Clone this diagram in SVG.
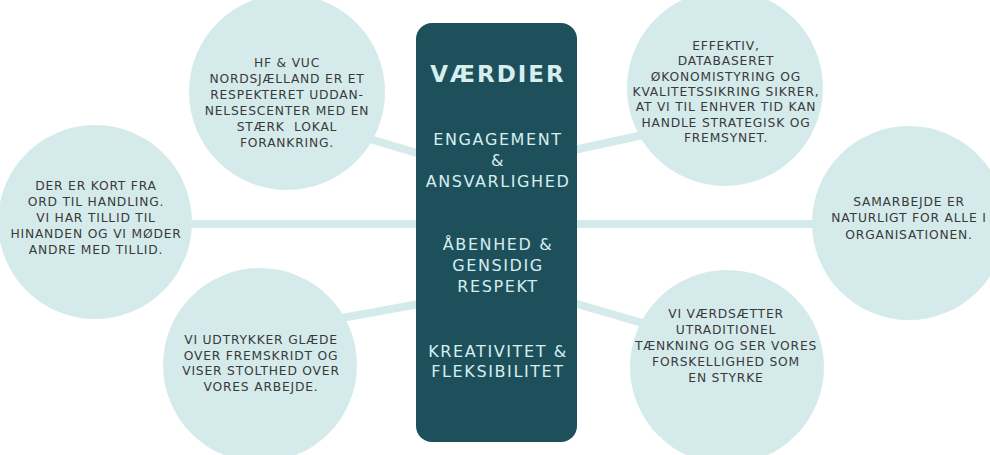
<svg xmlns="http://www.w3.org/2000/svg" width="990" height="455" viewBox="0 0 990 455">
<style>
.bub{fill:#d5ebeb}
.con{stroke:#d5ebeb;stroke-width:8;fill:none}
.t{font-family:"DejaVu Sans",sans-serif;font-size:12.3px;fill:#3a3a3a;text-anchor:middle;letter-spacing:0.8px}
.c{font-family:"DejaVu Sans",sans-serif;font-size:16px;fill:#d6eeee;text-anchor:middle;letter-spacing:1.6px}
.h{font-family:"DejaVu Sans",sans-serif;font-size:23px;font-weight:bold;fill:#d6eeee;text-anchor:middle;letter-spacing:2px}
</style>
<rect width="990" height="455" fill="#ffffff"/>
<g id="connectors">
<line class="con" x1="330" y1="127" x2="430" y2="157"/>
<line class="con" x1="150" y1="224" x2="430" y2="224"/>
<line class="con" x1="320" y1="322" x2="430" y2="302"/>
<line class="con" x1="560" y1="153" x2="680" y2="127"/>
<line class="con" x1="560" y1="224" x2="860" y2="224"/>
<line class="con" x1="560" y1="299" x2="680" y2="334"/>
</g>
<g id="center">
<rect x="416" y="23" width="161" height="419" rx="16" fill="#1e505c"/>
<text class="h" x="498" y="82">VÆRDIER</text>
<text class="c" x="498" y="145">ENGAGEMENT</text>
<text class="c" x="498" y="166">&amp;</text>
<text class="c" x="498" y="187">ANSVARLIGHED</text>
<text class="c" x="498" y="250">ÅBENHED &amp;</text>
<text class="c" x="498" y="271">GENSIDIG</text>
<text class="c" x="498" y="292">RESPEKT</text>
<text class="c" x="498" y="357">KREATIVITET &amp;</text>
<text class="c" x="498" y="377">FLEKSIBILITET</text>
</g>
<g id="n1">
<circle class="bub" cx="287" cy="92" r="98"/>
<text class="t" x="287" y="67">HF &amp; VUC</text>
<text class="t" x="287" y="83">NORDSJÆLLAND ER ET</text>
<text class="t" x="287" y="99">RESPEKTERET UDDAN-</text>
<text class="t" x="287" y="115">NELSESCENTER MED EN</text>
<text class="t" x="287" y="131" xml:space="preserve">STÆRK  LOKAL</text>
<text class="t" x="287" y="147">FORANKRING.</text>
</g>
<g id="n2">
<circle class="bub" cx="95" cy="222" r="97"/>
<text class="t" x="96" y="190">DER ER KORT FRA</text>
<text class="t" x="96" y="206">ORD TIL HANDLING.</text>
<text class="t" x="96" y="222">VI HAR TILLID TIL</text>
<text class="t" x="96" y="238">HINANDEN OG VI MØDER</text>
<text class="t" x="96" y="254">ANDRE MED TILLID.</text>
</g>
<g id="n3">
<circle class="bub" cx="260" cy="365" r="97"/>
<text class="t" x="261" y="344">VI UDTRYKKER GLÆDE</text>
<text class="t" x="261" y="360">OVER FREMSKRIDT OG</text>
<text class="t" x="261" y="375">VISER STOLTHED OVER</text>
<text class="t" x="261" y="391">VORES ARBEJDE.</text>
</g>
<g id="n4">
<circle class="bub" cx="725" cy="88" r="98"/>
<text class="t" x="726" y="50">EFFEKTIV,</text>
<text class="t" x="726" y="65">DATABASERET</text>
<text class="t" x="726" y="81">ØKONOMISTYRING OG</text>
<text class="t" x="726" y="96">KVALITETSSIKRING SIKRER,</text>
<text class="t" x="726" y="111">AT VI TIL ENHVER TID KAN</text>
<text class="t" x="726" y="127">HANDLE STRATEGISK OG</text>
<text class="t" x="726" y="142">FREMSYNET.</text>
</g>
<g id="n5">
<circle class="bub" cx="909" cy="223" r="97"/>
<text class="t" x="909" y="206">SAMARBEJDE ER</text>
<text class="t" x="909" y="222">NATURLIGT FOR ALLE I</text>
<text class="t" x="909" y="239">ORGANISATIONEN.</text>
</g>
<g id="n6">
<circle class="bub" cx="727" cy="367" r="97"/>
<text class="t" x="726" y="318">VI VÆRDSÆTTER</text>
<text class="t" x="726" y="334">UTRADITIONEL</text>
<text class="t" x="726" y="350">TÆNKNING OG SER VORES</text>
<text class="t" x="726" y="366">FORSKELLIGHED SOM</text>
<text class="t" x="726" y="382">EN STYRKE</text>
</g>
</svg>
